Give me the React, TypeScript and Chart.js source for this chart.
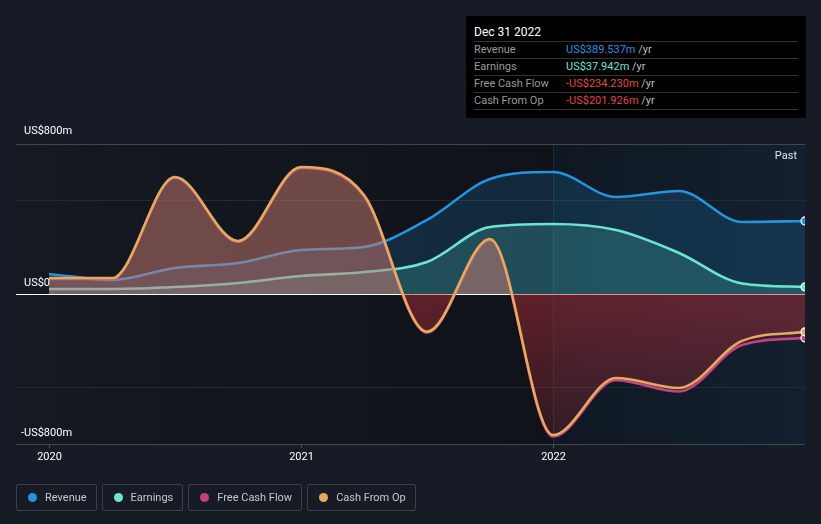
import React, { useEffect, useRef } from "react";
import { Chart, registerables } from "chart.js";

Chart.register(...registerables);

const quarters = [2020.0, 2020.25, 2020.5, 2020.75, 2021.0, 2021.25, 2021.5, 2021.75, 2022.0, 2022.25, 2022.5, 2022.75, 2023.0];
const revenue = [107, 75, 139, 165, 235, 251, 395, 613, 651, 517, 549, 384, 389.537];
const earnings = [27, 27, 37, 59, 96, 117, 171, 357, 373, 341, 219, 56, 37.942];
const freeCashFlow = [80, 80, 620, 278, 672, 522, -206, 288, -760, -460, -520, -272, -234.23];
const cashFromOp = [85, 85, 624, 283, 677, 528, -201, 293, -752, -448, -501, -250, -201.926];

const seriesNames = ["Revenue", "Earnings", "Free Cash Flow", "Cash From Op"];
const seriesColors = ["#2394df", "#6ce5d0", "#c2417f", "#e8a95b"];
const tooltipDate = "Dec 31 2022";
const tooltipValues = ["US$389.537m", "US$37.942m", "-US$234.230m", "-US$201.926m"];
const tooltipColors = ["#2394df", "#6ce5d0", "#e84545", "#e84545"];

const yearTicks = [2020, 2021, 2022];
const yLabelValues = [800, 0, -800];
const gridValues = [-800, -500, 0, 500, 800];
const highlightStart = 2022;
const xMin = 2020 - 33 / 252;
const xMax = 2023;

const PAGE_BG = "#161b25";
const FONT = "Roboto, 'Noto Sans', sans-serif";
const PAD = { left: 16, right: 16, top: 144, bottom: 80 };
const CANVAS_W = 821;
const CANVAS_H = 524;

function fmtY(v: number) {
  if (v === 0) return "US$0";
  return (v < 0 ? "-" : "") + "US$" + Math.abs(v) + "m";
}

const decorPlugin = {
  id: "decor",
  beforeDraw(chart: any) {
    const { ctx, chartArea, scales } = chart;
    const { left, right, top, bottom } = chartArea;
    ctx.save();
    ctx.fillStyle = PAGE_BG;
    ctx.fillRect(0, 0, chart.width, chart.height);
    const hx = scales.x.getPixelForValue(highlightStart);
    const g = ctx.createLinearGradient(left, 0, hx, 0);
    g.addColorStop(0, "#141922");
    g.addColorStop(1, "#0f1218");
    ctx.fillStyle = g;
    ctx.fillRect(left, top, hx - left, bottom - top);
    const g2 = ctx.createLinearGradient(hx, 0, right, 0);
    g2.addColorStop(0, "#0f1822");
    g2.addColorStop(1, "#13202f");
    ctx.fillStyle = g2;
    ctx.fillRect(hx, top, right - hx, bottom - top);
    ctx.strokeStyle = "rgba(60,80,100,0.35)";
    ctx.lineWidth = 1;
    ctx.beginPath();
    ctx.moveTo(Math.round(hx) + 0.5, top);
    ctx.lineTo(Math.round(hx) + 0.5, bottom);
    ctx.stroke();
    ctx.restore();
  },
  afterDraw(chart: any) {
    const { ctx, chartArea, scales } = chart;
    ctx.save();
    ctx.font = "11px " + FONT;
    ctx.fillStyle = "#ffffff";
    ctx.textBaseline = "middle";
    ctx.textAlign = "left";
    for (const v of yLabelValues) {
      const y = scales.y.getPixelForValue(v) - (v === 800 ? 13 : 11);
      const t = fmtY(v);
      let x = 24;
      if (v < 0) x -= ctx.measureText("-").width;
      ctx.fillText(t, x, y);
    }
    ctx.textAlign = "center";
    ctx.strokeStyle = "#4a4f57";
    ctx.lineWidth = 1;
    for (const yr of yearTicks) {
      const x = Math.round(scales.x.getPixelForValue(yr)) + 0.5;
      ctx.beginPath();
      ctx.moveTo(x, chartArea.bottom);
      ctx.lineTo(x, chartArea.bottom + 4);
      ctx.stroke();
      ctx.fillText(String(yr), x, chartArea.bottom + 13);
    }
    ctx.textAlign = "right";
    ctx.fillStyle = "#e6e6e6";
    ctx.fillText("Past", chartArea.right - 8, chartArea.top + 12);
    ctx.restore();
  },
};

export default function App() {
  const ref = useRef<HTMLCanvasElement>(null);
  useEffect(() => {
    document.body.style.margin = "0";
    document.body.style.background = PAGE_BG;
    const canvas = ref.current!;
    const c2d = canvas.getContext("2d")!;
    const zeroY = PAD.top + (CANVAS_H - PAD.top - PAD.bottom) / 2;
    const bottomY = CANVAS_H - PAD.bottom;
    const redGrad = (r: number, g: number, b: number, a0: number, a1: number) => {
      const gr = c2d.createLinearGradient(0, zeroY, 0, bottomY);
      gr.addColorStop(0, `rgba(${r},${g},${b},${a0})`);
      gr.addColorStop(1, `rgba(${r},${g},${b},${a1})`);
      return gr;
    };
    const n = quarters.length;
    const mk = (data: number[], i: number, fill: any) => ({
      label: seriesNames[i],
      data: data.map((v, k) => ({ x: quarters[k], y: v })),
      borderColor: seriesColors[i],
      borderWidth: 2.6,
      fill,
      cubicInterpolationMode: "monotone" as const,
      pointRadius: quarters.map((_, k) => (k === n - 1 ? 4 : 0)),
      pointBackgroundColor: seriesColors[i],
      pointBorderColor: "#ffffff",
      pointBorderWidth: 1.2,
      clip: 0,
    });
    const datasets = [
      mk(revenue, 0, { target: "origin", above: "rgba(35,148,223,0.18)", below: "rgba(35,148,223,0.18)" }),
      mk(earnings, 1, { target: "origin", above: "rgba(88,224,200,0.2)", below: "rgba(88,224,200,0.2)" }),
      mk(freeCashFlow, 2, { target: "origin", above: "rgba(200,65,127,0.12)", below: redGrad(170, 45, 70, 0.26, 0.08) }),
      mk(cashFromOp, 3, { target: "origin", above: "rgba(200,130,110,0.45)", below: redGrad(170, 45, 50, 0.34, 0.12) }),
    ].reverse();
    const chart = new Chart(canvas, {
      type: "line",
      data: { datasets: datasets as any },
      options: {
        animation: false,
        responsive: false,
        maintainAspectRatio: false,
        events: [],
        layout: { padding: PAD },
        plugins: { legend: { display: false }, tooltip: { enabled: false } },
        scales: {
          x: { type: "linear", min: xMin, max: xMax, display: false },
          y: {
            min: -800,
            max: 800,
            display: true,
            afterFit: (s: any) => {
              s.width = 0;
            },
            afterBuildTicks: (s: any) => {
              s.ticks = gridValues.map((v) => ({ value: v }));
            },
            ticks: { display: false },
            border: { display: false },
            grid: {
              drawTicks: false,
              color: (c: any) => {
                const v = c.tick?.value;
                if (v === 0) return "#ffffff";
                if (v === 800 || v === -800) return "#40454e";
                return "#232a33";
              },
              lineWidth: 1,
            },
          },
        },
      },
      plugins: [decorPlugin],
    });
    return () => chart.destroy();
  }, []);

  return (
    <div style={{ position: "relative", width: CANVAS_W, height: CANVAS_H, background: PAGE_BG, fontFamily: FONT, overflow: "hidden" }}>
      <canvas ref={ref} width={CANVAS_W} height={CANVAS_H} style={{ position: "absolute", left: 0, top: 0, width: CANVAS_W, height: CANVAS_H }} />
      <div
        style={{
          position: "absolute",
          left: 466,
          top: 16,
          width: 340,
          height: 102,
          background: "#000000",
          boxSizing: "border-box",
          padding: "0 8px",
        }}
      >
        <div style={{ height: 25, lineHeight: "32px", color: "#ffffff", fontSize: 12, borderBottom: "1px solid #333" }}>{tooltipDate}</div>
        {seriesNames.map((name, i) => (
          <div key={name} style={{ display: "flex", height: 17, lineHeight: "16px", fontSize: 11, borderBottom: "1px solid #333", boxSizing: "border-box" }}>
            <div style={{ width: 92, color: "#9a9a9a" }}>{name}</div>
            <div>
              <span style={{ color: tooltipColors[i] }}>{tooltipValues[i]}</span>
              <span style={{ color: "#bdbdbd" }}> /yr</span>
            </div>
          </div>
        ))}
      </div>
      <div style={{ position: "absolute", left: 16, top: 484, display: "flex", gap: 5 }}>
        {seriesNames.map((name, i) => (
          <div
            key={name}
            style={{
              display: "flex",
              alignItems: "center",
              height: 27,
              boxSizing: "border-box",
              border: "1px solid #3a3f48",
              borderRadius: 2,
              padding: "0 9px 0 11px",
              fontSize: 11,
              color: "#c8c8c8",
            }}
          >
            <span style={{ width: 9, height: 9, borderRadius: "50%", background: seriesColors[i], marginRight: 8, display: "inline-block" }} />
            {name}
          </div>
        ))}
      </div>
    </div>
  );
}
